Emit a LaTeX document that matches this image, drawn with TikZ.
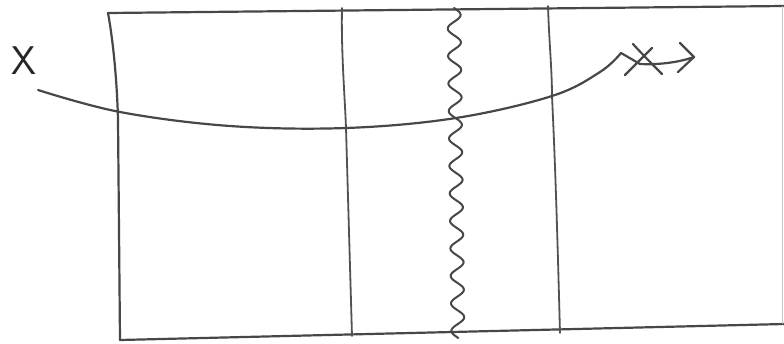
\documentclass[tikz,border=0pt]{standalone}
\usetikzlibrary{calc}
\tikzset{
  pen/.style={draw=black!72, line width=2.2pt, line cap=round, line join=round},
  thinpen/.style={draw=black!68, line width=1.8pt, line cap=round, line join=round},
  faintpen/.style={draw=black!22, line width=1pt},
  hand/.style={font=\sffamily\fontsize{40}{40}\selectfont, text=black!85, inner sep=0pt}
}
\begin{document}
\begin{tikzpicture}[x=1pt,y=-1pt]
\useasboundingbox (0,0) rectangle (784,343);
\fill[white] (0,0) rectangle (784,343);
% frame corners
\coordinate (tl) at (108,13);
\coordinate (tr) at (784,6);
\coordinate (bl) at (120,340);
\coordinate (br) at (784,324);
% frame
\draw[pen] (tl) -- (tr);
\draw[pen] (tl) .. controls (113,40) and (117,80) .. (118,120) -- (bl);
\draw[pen] (bl) -- (br);
\draw[faintpen] (782,6) -- (782,324);
% vertical dividers
\coordinate (v1t) at (342,8);
\coordinate (v1m) at (346,128);
\coordinate (v1b) at (352,336);
\draw[thinpen] (v1t) .. controls (341,50) and (345,100) .. (v1m) -- (v1b);
\coordinate (v2t) at (548,6);
\coordinate (v2m) at (552,96);
\coordinate (v2b) at (560,333);
\draw[thinpen] (v2t) .. controls (549,40) and (552,70) .. (v2m) .. controls (556,180) and (558,260) .. (v2b);
% wavy line
\draw[pen, line width=2pt] plot[domain=8:338, samples=400, smooth] ({454+0.012*(\x-8)+6.5*sin((\x-8)*13.1)}, {\x});
% curve with arrow
\coordinate (c0) at (38,90);
\coordinate (peak) at (621,53);
\coordinate (dip) at (640,64);
\coordinate (tip) at (694,57);
\draw[pen] plot[smooth, tension=0.6] coordinates {(c0) (120,112) (230,126) (346,128) (456,118) (552,96) (600,72) (peak)}
  -- (dip) .. controls (660,65) and (680,62) .. (tip);
\coordinate (ha) at (680,43);
\coordinate (hb) at (678,72);
\draw[pen] (ha) -- (tip) -- (hb);
% cross mark
\coordinate (x1a) at (633,44);
\coordinate (x1b) at (662,74);
\coordinate (x2a) at (652,48);
\coordinate (x2b) at (625,75);
\draw[pen] (x1a) .. controls (643,55) and (652,64) .. (x1b);
\draw[pen] (x2a) .. controls (643,57) and (634,66) .. (x2b);
% label
\node[hand] (lx) at (24,61) {X};
\end{tikzpicture}
\end{document}
